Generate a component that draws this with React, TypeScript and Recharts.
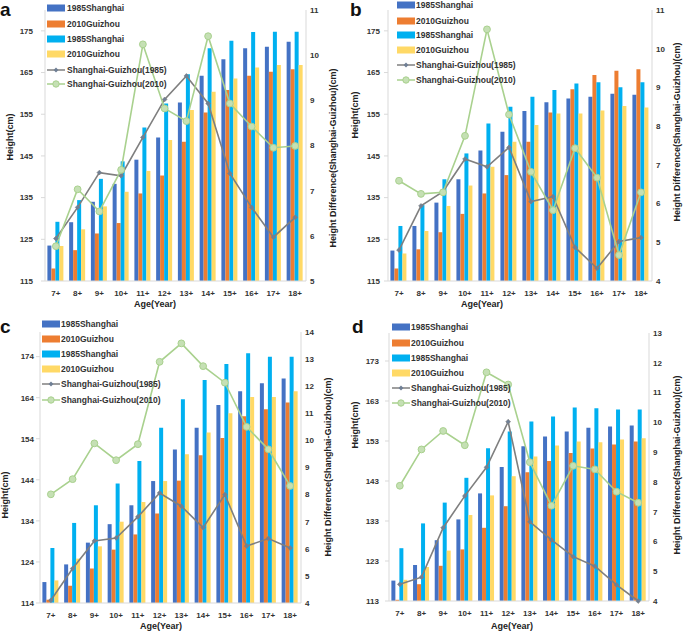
import { ComposedChart, Bar, Line, XAxis, YAxis, Label } from 'recharts';

const AGES = ['7+', '8+', '9+', '10+', '11+', '12+', '13+', '14+', '15+', '16+', '17+', '18+'];

// panel a
const A_SH85 = [123.5, 129.1, 134, 138.3, 144.1, 149.4, 157.8, 164.2, 168.2, 170.8, 171.2, 172.4];
const A_GZ10 = [118, 122.4, 126.4, 128.9, 136, 140.3, 148.4, 155.4, 160.8, 164.2, 165.2, 165.8];
const A_SH85B = [129.2, 134.4, 139.5, 143.7, 151.8, 157.6, 164.6, 170.8, 172.6, 174.7, 174.8, 174.8];
const A_GZ10B = [123.4, 127.4, 132.9, 136.4, 141.4, 148.8, 156, 160.4, 163.6, 166.2, 166.8, 166.8];
const A_D85 = [5.94, 6.63, 7.4, 7.33, 8.18, 9.02, 9.54, 8.93, 7.38, 6.63, 5.97, 6.41];
const A_D10 = [5.77, 7.03, 6.54, 7.46, 10.24, 8.82, 8.54, 10.42, 8.93, 8.42, 7.95, 7.99];

// panel b
const B_SH85 = [122.3, 128.2, 133.8, 139.4, 146.3, 150.8, 155.8, 157.9, 158.8, 159.2, 159.9, 159.7];
const B_GZ10 = [118, 122.6, 126.7, 131.1, 136, 140.4, 148.4, 155.4, 161, 164.4, 165.4, 165.8];
const B_SH85B = [128.2, 133.2, 139.4, 145.6, 152.8, 156.8, 159.2, 160.8, 162.4, 162.7, 161.5, 162.7];
const B_GZ10B = [121.6, 127, 133, 137.9, 142.4, 148.4, 152.4, 155.2, 155.2, 155.9, 157, 156.6];
const B_D85 = [4.8, 5.94, 6.31, 7.15, 6.95, 7.45, 6.05, 6.18, 4.87, 4.33, 5.02, 5.12];
const B_D10 = [6.59, 6.25, 6.29, 7.75, 10.5, 8.3, 6.82, 5.83, 7.43, 6.67, 4.67, 6.29];

// panel c
const C_SH85 = [119.1, 123.4, 128.7, 133.2, 137.8, 143.7, 151.4, 156.7, 162.2, 165.6, 167.5, 168.7];
const C_GZ10 = [114.8, 118.2, 122.4, 127, 130.7, 135.8, 143.8, 150, 154.2, 159.5, 161.2, 162.8];
const C_SH85B = [127.4, 133.5, 137.8, 143.1, 148.6, 156.7, 163.6, 168.3, 172.2, 174.8, 174, 174];
const C_GZ10B = [119.5, 124.8, 127.8, 133.8, 138.6, 143.7, 150.2, 155.5, 160.2, 164.2, 164.2, 165.6];
const C_D85 = [4.1, 5.27, 6.29, 6.4, 7.18, 8.06, 7.57, 6.78, 8.0, 6.1, 6.38, 6.03];
const C_D10 = [8.01, 8.57, 9.89, 9.27, 9.86, 12.9, 13.58, 12.74, 12.13, 10.5, 9.67, 8.32];

// panel d
const D_SH85 = [118.1, 122, 128.2, 133.4, 139.9, 146.5, 151.7, 154.1, 155.4, 156.3, 156.6, 156.9];
const D_GZ10 = [113.3, 117.2, 121.8, 125.9, 131.3, 136.7, 145.2, 148, 150, 151.1, 152.1, 152.9];
const D_SH85B = [126.2, 132.4, 137.6, 143.8, 151.2, 155.4, 157.9, 159.1, 161.4, 161.2, 160.9, 160.9];
const D_GZ10B = [118.3, 121.5, 125.6, 134.5, 139.4, 144.2, 149.1, 151.9, 152.9, 152.7, 153.4, 153.7];
const D_D85 = [4.56, 4.8, 6.46, 7.53, 8.49, 10.02, 6.66, 6.05, 5.49, 5.17, 4.54, 4.0];
const D_D10 = [7.87, 9.09, 9.71, 9.23, 11.68, 11.27, 8.66, 7.2, 8.54, 8.42, 7.67, 7.3];

const LEGEND = ['1985Shanghai', '2010Guizhou', '1985Shanghai', '2010Guizhou', 'Shanghai-Guizhou(1985)', 'Shanghai-Guizhou(2010)'];
const BAR_COLORS = ['#4472C4', '#ED7D31', '#00B0F0', '#FFD966'];
const GRAY = '#7F7F7F';
const GREEN = '#A9D18E';
const AXIS = '#D9D9D9';
const FONT = '"Liberation Sans", Arial, sans-serif';
const TICK = { fontSize: 8, fontWeight: 700, fill: '#333', fontFamily: FONT };
const TITLE = { fontSize: 9, fontWeight: 700, fill: '#222', fontFamily: FONT };

const range = (a: number, b: number, s: number) => {
  const out: number[] = [];
  for (let v = a; v <= b; v += s) out.push(v);
  return out;
};

const rows = (s85: number[], g10: number[], s85b: number[], g10b: number[], d85: number[], d10: number[]) =>
  AGES.map((age, i) => ({ age, s85: s85[i], g10: g10[i], s85b: s85b[i], g10b: g10b[i], d85: d85[i], d10: d10[i] }));

const GrayDot = (p: any) => {
  const { cx, cy } = p;
  if (cx == null || cy == null) return null;
  const r = 2.4;
  return <path key={`g${cx}`} d={`M${cx},${cy - r}L${cx + r},${cy}L${cx},${cy + r}L${cx - r},${cy}Z`} fill="#6f7f95" stroke={GRAY} strokeWidth={0.6} />;
};

type PanelCfg = {
  letter: string;
  x: number;
  y: number;
  w: number;
  h: number;
  plot: { left: number; right: number; top: number; bottom: number };
  leftDomain: [number, number];
  leftTicks: number[];
  leftGap: number;
  rightDomain: [number, number];
  legend: { sx: number; tx: number; ys: number[] };
  letterPos: [number, number];
  leftTitle: [number, number];
  rightTitle: [number, number];
  age: [number, number];
  data: ReturnType<typeof rows>;
};

function LegendBox({ sx, tx, ys }: { sx: number; tx: number; ys: number[] }) {
  return (
    <>
      {LEGEND.map((name, i) => (
        <div key={i} style={{ position: 'absolute', left: sx, top: ys[i] - 5, height: 10, display: 'flex', alignItems: 'center' }}>
          <svg width={18} height={10} style={{ display: 'block' }}>
            {i < 4 ? (
              <rect x={0} y={1.5} width={18} height={7} fill={BAR_COLORS[i]} />
            ) : i === 4 ? (
              <>
                <line x1={0} x2={18} y1={5} y2={5} stroke={GRAY} strokeWidth={1.5} />
                <path d="M9,2.6L11.4,5L9,7.4L6.6,5Z" fill="#6f7f95" />
              </>
            ) : (
              <>
                <line x1={0} x2={18} y1={5} y2={5} stroke={GREEN} strokeWidth={1.5} />
                <circle cx={9} cy={5} r={3.2} fill="#C5E0B4" stroke={GREEN} strokeWidth={1} />
              </>
            )}
          </svg>
          <span style={{ position: 'absolute', left: tx - sx, whiteSpace: 'nowrap', fontSize: 8.5, fontWeight: 700, color: '#333', lineHeight: '10px' }}>
            {name}
          </span>
        </div>
      ))}
    </>
  );
}

function Panel(c: PanelCfg) {
  const { plot } = c;
  const rightWidth = c.w - plot.right;
  return (
    <div style={{ position: 'absolute', left: c.x, top: c.y, width: c.w, height: c.h }}>
      <ComposedChart
        width={c.w}
        height={c.h}
        data={c.data}
        margin={{ top: plot.top, left: 0, right: 0, bottom: 0 }}
        barCategoryGap="11%"
        barGap={0}
      >
        <XAxis
          dataKey="age"
          interval={0}
          height={c.h - plot.bottom}
          axisLine={{ stroke: AXIS }}
          tickLine={false}
          tickSize={0}
          tickMargin={9}
          tick={TICK}
        >
          <Label
            content={() => (
              <text x={c.age[0]} y={c.age[1]} textAnchor="middle" style={TITLE}>
                Age(Year)
              </text>
            )}
          />
        </XAxis>
        <YAxis
          yAxisId="l"
          width={plot.left}
          domain={c.leftDomain}
          ticks={c.leftTicks}
          interval={0}
          axisLine={{ stroke: AXIS }}
          tickLine={{ stroke: AXIS }}
          tickSize={4}
          tickMargin={c.leftGap - 4}
          tick={TICK}
        >
          <Label
            content={() => (
              <text
                x={c.leftTitle[0]}
                y={c.leftTitle[1]}
                textAnchor="middle"
                dominantBaseline="central"
                transform={`rotate(-90 ${c.leftTitle[0]} ${c.leftTitle[1]})`}
                style={TITLE}
              >
                Height(cm)
              </text>
            )}
          />
        </YAxis>
        <YAxis
          yAxisId="r"
          orientation="right"
          width={rightWidth}
          domain={c.rightDomain}
          ticks={range(c.rightDomain[0], c.rightDomain[1], 1)}
          interval={0}
          axisLine={{ stroke: AXIS }}
          tickLine={false}
          tickSize={0}
          tickMargin={4}
          tick={TICK}
        >
          <Label
            content={() => (
              <text
                x={c.rightTitle[0]}
                y={c.rightTitle[1]}
                textAnchor="middle"
                dominantBaseline="central"
                transform={`rotate(-90 ${c.rightTitle[0]} ${c.rightTitle[1]})`}
                style={TITLE}
              >
                Height Difference(Shanghai-Guizhou)(cm)
              </text>
            )}
          />
        </YAxis>
        <Bar yAxisId="l" dataKey="s85" fill={BAR_COLORS[0]} isAnimationActive={false} />
        <Bar yAxisId="l" dataKey="g10" fill={BAR_COLORS[1]} isAnimationActive={false} />
        <Bar yAxisId="l" dataKey="s85b" fill={BAR_COLORS[2]} isAnimationActive={false} />
        <Bar yAxisId="l" dataKey="g10b" fill={BAR_COLORS[3]} isAnimationActive={false} />
        <Line yAxisId="r" dataKey="d85" stroke={GRAY} strokeWidth={1.6} dot={GrayDot} activeDot={false} isAnimationActive={false} />
        <Line
          yAxisId="r"
          dataKey="d10"
          stroke={GREEN}
          strokeWidth={1.6}
          dot={{ r: 3.4, fill: '#C5E0B4', stroke: GREEN, strokeWidth: 1 }}
          activeDot={false}
          isAnimationActive={false}
        />
      </ComposedChart>
      <LegendBox {...c.legend} />
      <div
        style={{
          position: 'absolute',
          left: c.letterPos[0],
          top: c.letterPos[1],
          fontSize: 19,
          fontWeight: 700,
          lineHeight: '19px',
          color: '#111',
        }}
      >
        {c.letter}
      </div>
    </div>
  );
}

const PANELS: PanelCfg[] = [
  {
    letter: 'a', x: 0, y: 0, w: 345, h: 310,
    plot: { left: 45, right: 306, top: 10, bottom: 281 },
    leftDomain: [115, 180], leftTicks: range(115, 175, 10), leftGap: 12, rightDomain: [5, 11],
    legend: { sx: 47, tx: 67, ys: [8, 24, 39, 54, 70, 84] },
    letterPos: [0, 0], leftTitle: [10, 137], rightTitle: [333, 158], age: [155, 307],
    data: rows(A_SH85, A_GZ10, A_SH85B, A_GZ10B, A_D85, A_D10),
  },
  {
    letter: 'b', x: 340, y: 0, w: 345, h: 310,
    plot: { left: 48, right: 312, top: 10, bottom: 281 },
    leftDomain: [115, 180], leftTicks: range(115, 175, 10), leftGap: 8, rightDomain: [4, 11],
    legend: { sx: 57, tx: 76, ys: [5, 21, 35, 50, 65, 80] },
    letterPos: [10, 0], leftTitle: [15, 115], rightTitle: [337, 132], age: [142, 307],
    data: rows(B_SH85, B_GZ10, B_SH85B, B_GZ10B, B_D85, B_D10),
  },
  {
    letter: 'c', x: 0, y: 310, w: 345, h: 323,
    plot: { left: 40, right: 301, top: 22, bottom: 293 },
    leftDomain: [114, 180], leftTicks: range(114, 174, 10), leftGap: 6, rightDomain: [4, 14],
    legend: { sx: 42, tx: 61, ys: [14, 29, 44, 59, 74, 90] },
    letterPos: [0, 7], leftTitle: [5, 185], rightTitle: [328, 157], age: [161, 319],
    data: rows(C_SH85, C_GZ10, C_SH85B, C_GZ10B, C_D85, C_D10),
  },
  {
    letter: 'd', x: 340, y: 310, w: 345, h: 323,
    plot: { left: 49, right: 309, top: 23, bottom: 291 },
    leftDomain: [113, 180], leftTicks: range(113, 173, 10), leftGap: 10, rightDomain: [4, 13],
    legend: { sx: 52, tx: 71, ys: [17, 33, 48, 63, 78, 93] },
    letterPos: [12, 7], leftTitle: [15, 115], rightTitle: [337, 155], age: [172, 319],
    data: rows(D_SH85, D_GZ10, D_SH85B, D_GZ10B, D_D85, D_D10),
  },
];

export default function App() {
  return (
    <div style={{ position: 'absolute', left: 0, top: 0, width: 685, height: 633, background: '#fff', fontFamily: FONT, overflow: 'hidden' }}>
      {PANELS.map((p) => (
        <Panel key={p.letter} {...p} />
      ))}
    </div>
  );
}
